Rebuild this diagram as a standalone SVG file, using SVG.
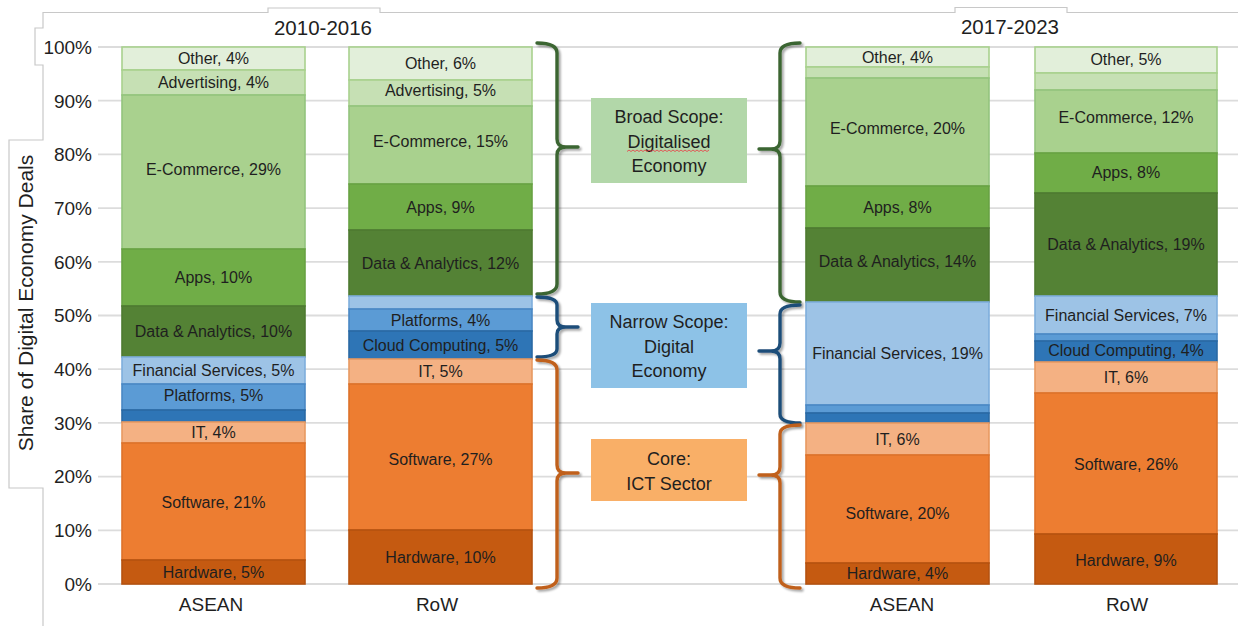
<svg xmlns="http://www.w3.org/2000/svg" width="1238" height="626" viewBox="0 0 1238 626">
  <style>
    text { font-family: "Liberation Sans", Arial, sans-serif; fill: #1f1f1f; }
    .grid { stroke: #DCDCDC; stroke-width: 1.8; }
    .frame { stroke: #C8C8C8; stroke-width: 1.2; fill: none; }
    .tick { font-size: 19px; text-anchor: end; }
    .cat { font-size: 19px; text-anchor: middle; }
    .period { font-size: 20.5px; text-anchor: middle; }
    .axis { font-size: 21px; text-anchor: middle; }
    .lbl { font-size: 16px; text-anchor: middle; }
    .box { font-size: 18px; text-anchor: middle; }
    rect.seg { stroke-width: 1.6; }
    .other { fill: #E2EFDA; stroke: #A9D18E; }
    .adv { fill: #C6E0B4; stroke: #A9D18E; }
    .ecom { fill: #A9D18E; stroke: #93C47D; }
    .apps { fill: #70AD47; stroke: #68A243; }
    .data { fill: #548235; stroke: #4E7A31; }
    .fin { fill: #9DC3E6; stroke: #7FAEDC; }
    .plat { fill: #5B9BD5; stroke: #4A88C4; }
    .cloud { fill: #2E75B6; stroke: #2A69A4; }
    .it { fill: #F4B183; stroke: #E89A62; }
    .soft { fill: #ED7D31; stroke: #DC722B; }
    .hard { fill: #C55A11; stroke: #B5520F; }
    .brace { fill: none; stroke-width: 3.4; stroke-linecap: round; stroke-linejoin: round; filter: url(#shadow); }
  </style>
  <defs>
    <filter id="shadow" x="-20%" y="-5%" width="160%" height="115%">
      <feDropShadow dx="2" dy="2" stdDeviation="1.3" flood-color="#000" flood-opacity="0.35"/>
    </filter>
  </defs>

  <rect width="1238" height="626" fill="#FFFFFF"/>

  <!-- chart frame and title box outlines -->
  <g id="frame">
    <path class="frame" d="M43,12 V28 H35 V65 H43 V140 H9 V488 H43 V626"/>
    <path class="frame" d="M43,12.5 H268 V8 H380 V12.5 H955 V7.5 H1067 V12.5 H1238"/>
  </g>

  <!-- horizontal gridlines -->
  <g id="gridlines">
    <line class="grid" x1="98" y1="584" x2="1238" y2="584"/>
    <line class="grid" x1="98" y1="530.3" x2="1238" y2="530.3"/>
    <line class="grid" x1="98" y1="476.6" x2="1238" y2="476.6"/>
    <line class="grid" x1="98" y1="422.9" x2="1238" y2="422.9"/>
    <line class="grid" x1="98" y1="369.2" x2="1238" y2="369.2"/>
    <line class="grid" x1="98" y1="315.5" x2="1238" y2="315.5"/>
    <line class="grid" x1="98" y1="261.8" x2="1238" y2="261.8"/>
    <line class="grid" x1="98" y1="208.1" x2="1238" y2="208.1"/>
    <line class="grid" x1="98" y1="154.4" x2="1238" y2="154.4"/>
    <line class="grid" x1="98" y1="100.7" x2="1238" y2="100.7"/>
    <line class="grid" x1="98" y1="47" x2="1238" y2="47"/>
  </g>

  <!-- value axis -->
  <g id="axis">
    <text class="tick" x="92" y="590.8">0%</text>
    <text class="tick" x="92" y="537.1">10%</text>
    <text class="tick" x="92" y="483.4">20%</text>
    <text class="tick" x="92" y="429.7">30%</text>
    <text class="tick" x="92" y="376">40%</text>
    <text class="tick" x="92" y="322.3">50%</text>
    <text class="tick" x="92" y="268.6">60%</text>
    <text class="tick" x="92" y="214.9">70%</text>
    <text class="tick" x="92" y="161.2">80%</text>
    <text class="tick" x="92" y="107.5">90%</text>
    <text class="tick" x="92" y="53.8">100%</text>
    <text class="axis" transform="translate(33,303) rotate(-90)">Share of Digital Economy Deals</text>
  </g>

  <!-- period headings -->
  <g id="periods">
    <text class="period" x="323" y="35">2010-2016</text>
    <text class="period" x="1010" y="34">2017-2023</text>
  </g>

  <!-- 2010-2016, ASEAN -->
  <g id="bar-asean-2010">
    <rect class="seg other" x="122" y="47" width="183" height="23"/>
    <rect class="seg adv" x="122" y="70" width="183" height="25"/>
    <rect class="seg ecom" x="122" y="95" width="183" height="154"/>
    <rect class="seg apps" x="122" y="249" width="183" height="57"/>
    <rect class="seg data" x="122" y="306" width="183" height="51"/>
    <rect class="seg fin" x="122" y="357" width="183" height="27"/>
    <rect class="seg plat" x="122" y="384" width="183" height="26"/>
    <rect class="seg cloud" x="122" y="410" width="183" height="12"/>
    <rect class="seg it" x="122" y="422" width="183" height="21"/>
    <rect class="seg soft" x="122" y="443" width="183" height="117"/>
    <rect class="seg hard" x="122" y="560" width="183" height="24"/>
    <text class="lbl" x="213.5" y="64">Other, 4%</text>
    <text class="lbl" x="213.5" y="88">Advertising, 4%</text>
    <text class="lbl" x="213.5" y="175">E-Commerce, 29%</text>
    <text class="lbl" x="213.5" y="283">Apps, 10%</text>
    <text class="lbl" x="213.5" y="337">Data &amp; Analytics, 10%</text>
    <text class="lbl" x="213.5" y="376">Financial Services, 5%</text>
    <text class="lbl" x="213.5" y="400.5">Platforms, 5%</text>
    <text class="lbl" x="213.5" y="438">IT, 4%</text>
    <text class="lbl" x="213.5" y="507.5">Software, 21%</text>
    <text class="lbl" x="213.5" y="577.5">Hardware, 5%</text>
    <text class="cat" x="211" y="611">ASEAN</text>
  </g>

  <!-- 2010-2016, RoW -->
  <g id="bar-row-2010">
    <rect class="seg other" x="349" y="47" width="183" height="33"/>
    <rect class="seg adv" x="349" y="80" width="183" height="26"/>
    <rect class="seg ecom" x="349" y="106" width="183" height="78"/>
    <rect class="seg apps" x="349" y="184" width="183" height="46"/>
    <rect class="seg data" x="349" y="230" width="183" height="66"/>
    <rect class="seg fin" x="349" y="296" width="183" height="13"/>
    <rect class="seg plat" x="349" y="309" width="183" height="22"/>
    <rect class="seg cloud" x="349" y="331" width="183" height="28"/>
    <rect class="seg it" x="349" y="359" width="183" height="25"/>
    <rect class="seg soft" x="349" y="384" width="183" height="146"/>
    <rect class="seg hard" x="349" y="530" width="183" height="54"/>
    <text class="lbl" x="440.5" y="69">Other, 6%</text>
    <text class="lbl" x="440.5" y="96">Advertising, 5%</text>
    <text class="lbl" x="440.5" y="147">E-Commerce, 15%</text>
    <text class="lbl" x="440.5" y="213">Apps, 9%</text>
    <text class="lbl" x="440.5" y="269">Data &amp; Analytics, 12%</text>
    <text class="lbl" x="440.5" y="326">Platforms, 4%</text>
    <text class="lbl" x="440.5" y="350.5">Cloud Computing, 5%</text>
    <text class="lbl" x="440.5" y="377">IT, 5%</text>
    <text class="lbl" x="440.5" y="465">Software, 27%</text>
    <text class="lbl" x="440.5" y="563">Hardware, 10%</text>
    <text class="cat" x="437" y="611">RoW</text>
  </g>

  <!-- 2017-2023, ASEAN -->
  <g id="bar-asean-2017">
    <rect class="seg other" x="806" y="47" width="183" height="20"/>
    <rect class="seg adv" x="806" y="67" width="183" height="11"/>
    <rect class="seg ecom" x="806" y="78" width="183" height="108"/>
    <rect class="seg apps" x="806" y="186" width="183" height="42"/>
    <rect class="seg data" x="806" y="228" width="183" height="74"/>
    <rect class="seg fin" x="806" y="302" width="183" height="103"/>
    <rect class="seg plat" x="806" y="405" width="183" height="8"/>
    <rect class="seg cloud" x="806" y="413" width="183" height="10"/>
    <rect class="seg it" x="806" y="423" width="183" height="32"/>
    <rect class="seg soft" x="806" y="455" width="183" height="108"/>
    <rect class="seg hard" x="806" y="563" width="183" height="21"/>
    <text class="lbl" x="897.5" y="62.5">Other, 4%</text>
    <text class="lbl" x="897.5" y="134">E-Commerce, 20%</text>
    <text class="lbl" x="897.5" y="212.5">Apps, 8%</text>
    <text class="lbl" x="897.5" y="266.5">Data &amp; Analytics, 14%</text>
    <text class="lbl" x="897.5" y="359">Financial Services, 19%</text>
    <text class="lbl" x="897.5" y="444.5">IT, 6%</text>
    <text class="lbl" x="897.5" y="518.5">Software, 20%</text>
    <text class="lbl" x="897.5" y="579">Hardware, 4%</text>
    <text class="cat" x="902" y="611">ASEAN</text>
  </g>

  <!-- 2017-2023, RoW -->
  <g id="bar-row-2017">
    <rect class="seg other" x="1035" y="47" width="182" height="26"/>
    <rect class="seg adv" x="1035" y="73" width="182" height="17"/>
    <rect class="seg ecom" x="1035" y="90" width="182" height="63"/>
    <rect class="seg apps" x="1035" y="153" width="182" height="40"/>
    <rect class="seg data" x="1035" y="193" width="182" height="103"/>
    <rect class="seg fin" x="1035" y="296" width="182" height="38"/>
    <rect class="seg plat" x="1035" y="334" width="182" height="7"/>
    <rect class="seg cloud" x="1035" y="341" width="182" height="21"/>
    <rect class="seg it" x="1035" y="362" width="182" height="31"/>
    <rect class="seg soft" x="1035" y="393" width="182" height="141"/>
    <rect class="seg hard" x="1035" y="534" width="182" height="50"/>
    <text class="lbl" x="1126" y="65">Other, 5%</text>
    <text class="lbl" x="1126" y="123">E-Commerce, 12%</text>
    <text class="lbl" x="1126" y="178">Apps, 8%</text>
    <text class="lbl" x="1126" y="250">Data &amp; Analytics, 19%</text>
    <text class="lbl" x="1126" y="321">Financial Services, 7%</text>
    <text class="lbl" x="1126" y="356">Cloud Computing, 4%</text>
    <text class="lbl" x="1126" y="383">IT, 6%</text>
    <text class="lbl" x="1126" y="470">Software, 26%</text>
    <text class="lbl" x="1126" y="566">Hardware, 9%</text>
    <text class="cat" x="1127" y="611">RoW</text>
  </g>

  <!-- scope boxes -->
  <g id="box-broad">
    <rect x="591" y="98" width="156" height="85" fill="#B2D7A9"/>
    <text class="box" x="669" y="123">Broad Scope:</text>
    <text class="box" x="669" y="148">Digitalised</text>
    <path d="M627,151.5 l2,-1.5 l2,1.5 l2,-1.5 l2,1.5 l2,-1.5 l2,1.5 l2,-1.5 l2,1.5 l2,-1.5 l2,1.5 l2,-1.5 l2,1.5 l2,-1.5 l2,1.5 l2,-1.5 l2,1.5 l2,-1.5 l2,1.5 l2,-1.5 l2,1.5 l2,-1.5 l2,1.5 l2,-1.5 l2,1.5 l2,-1.5 l2,1.5 l2,-1.5 l2,1.5 l2,-1.5 l2,1.5 l2,-1.5 l2,1.5 l2,-1.5 l2,1.5 l2,-1.5 l2,1.5 l2,-1.5 l2,1.5 l2,-1.5 l2,1.5 l2,-1.5" fill="none" stroke="#E5484D" stroke-width="0.9"/>
    <text class="box" x="669" y="172">Economy</text>
  </g>
  <g id="box-narrow">
    <rect x="591" y="303" width="156" height="85" fill="#8DC2E7"/>
    <text class="box" x="669" y="328">Narrow Scope:</text>
    <text class="box" x="669" y="352.5">Digital</text>
    <text class="box" x="669" y="377">Economy</text>
  </g>
  <g id="box-core">
    <rect x="591" y="439" width="156" height="62" fill="#F9AF67"/>
    <text class="box" x="669" y="465">Core:</text>
    <text class="box" x="669" y="489.5">ICT Sector</text>
  </g>

  <!-- braces linking bar ranges to scope boxes -->
  <g id="connectors">
    <path class="brace" stroke="#3B6530" d="M537,43 Q557,43 557,53 V139 Q557,147 566,147 H578 M566,147 Q557,147 557,155 V284 Q557,294 537,294"/>
    <path class="brace" stroke="#1F4E79" d="M537,297 Q557,297 557,305 V320 Q557,327 566,327 H578 M566,327 Q557,327 557,334 V349 Q557,357 537,357"/>
    <path class="brace" stroke="#C0601A" d="M537,360 Q557,360 557,370 V465 Q557,473 566,473 H578 M566,473 Q557,473 557,481 V578 Q557,588 537,588"/>
    <path class="brace" stroke="#3B6530" d="M800,43 Q780,43 780,53 V141 Q780,149 771,149 H759 M771,149 Q780,149 780,157 V292 Q780,302 800,302"/>
    <path class="brace" stroke="#1F4E79" d="M800,305 Q780,305 780,314 V343 Q780,351 771,351 H759 M771,351 Q780,351 780,359 V414 Q780,423 800,423"/>
    <path class="brace" stroke="#C0601A" d="M800,425 Q780,425 780,434 V467 Q780,475 771,475 H759 M771,475 Q780,475 780,483 V578 Q780,588 800,588"/>
  </g>
</svg>
